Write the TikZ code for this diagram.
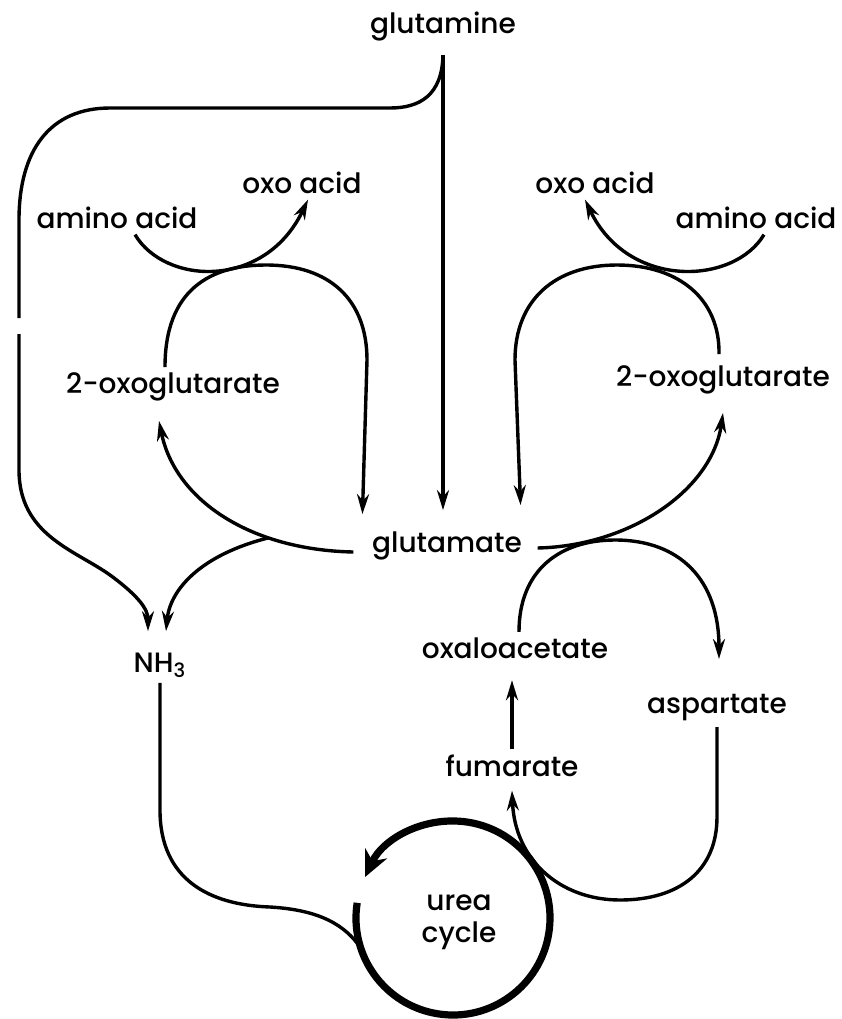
\documentclass[tikz,border=0pt]{standalone}
\usepackage{fontspec}
\setmainfont{Poppins}[UprightFont=* Medium]
\usetikzlibrary{arrows.meta}

\begin{document}
\begin{tikzpicture}[x=0.5pt, y=0.5pt, line width=1.7pt,
        lbl/.style={inner sep=2pt, font=\fontsize{14}{16}\selectfont},
        arr/.style={-{Stealth[length=10pt, width=6pt]}},
        ureaarc/.style={line width=3.6pt, -{Stealth[length=13pt, width=12pt]}}]
    \useasboundingbox (0,0) rectangle (842,-1019);

    % ノード（代謝物）の定義
    \node[lbl] (gln) at (443,-27) {glutamine};
    \node[lbl] (aminoL) at (117,-218) {amino acid};
    \node[lbl] (oxoL) at (302,-183) {oxo acid};
    \node[lbl] (oxoR) at (595,-183) {oxo acid};
    \node[lbl] (aminoR) at (756,-218) {amino acid};
    \node[lbl] (ogL) at (173,-387) {2-oxoglutarate};
    \node[lbl] (ogR) at (723,-380) {2-oxoglutarate};
    \node[lbl] (glu) at (447,-546) {glutamate};
    \node[lbl] (nh3) at (160,-665) {NH\textsubscript{3}};
    \node[lbl] (oaa) at (515,-648) {oxaloacetate};
    \node[lbl] (asp) at (717,-708) {aspartate};
    \node[lbl] (fum) at (512,-766) {fumarate};
    \coordinate (uc) at (453,-918);
    \node[lbl, align=center] (urea) at (459,-922) {urea\\cycle};

    % glutamine からの矢印
    \draw[arr, shorten <=4pt, shorten >=8pt] (gln.south) -- (gln.south |- glu.north);
    \draw ([yshift=-4pt]gln.south) .. controls (442,-95) and (420,-108) .. (390,-108)
        -- (110,-108) .. controls (50,-108) and (19,-150) .. (19,-220) -- (19,-318);
    \draw[arr] (19,-334) -- (19,-470) .. controls (19,-535) and (75,-550) .. (110,-575)
        .. controls (140,-597) and (148,-610) .. ([shift={(-6pt,8pt)}]nh3.north);

    % 左側のアミノ基転移
    \draw[arr] ([xshift=9pt]aminoL.south) .. controls (165,-285) and (265,-290) .. ([xshift=3pt]oxoL.south);
    \draw[arr] ([xshift=-4pt]ogL.north) .. controls (165,-290) and (210,-265) .. (266,-265)
        .. controls (330,-265) and (367,-300) .. (367,-360) -- ([shift={(-2pt,6pt)}]glu.north west);
    \draw[arr] ([shift={(-6.5pt,-3pt)}]glu.west) .. controls (250,-550) and (175,-500) ..
        ([shift={(-7pt,-7pt)}]ogL.south) coordinate[pos=0.3] (jl);
    \draw[arr] (jl) .. controls (200,-555) and (170,-590) .. ([shift={(3pt,8pt)}]nh3.north);

    % 右側のアミノ基転移
    \draw[arr] ([xshift=4pt]aminoR.south) .. controls (734,-285) and (628,-290) .. ([xshift=-5pt]oxoR.south);
    \draw[arr] ([shift={(-2pt,3pt)}]ogR.north) .. controls (720,-300) and (680,-265) .. (617,-265)
        .. controls (555,-265) and (515,-300) .. (515,-360) -- ([shift={(-3.5pt,10.5pt)}]glu.north east);
    \draw[arr] ([shift={(5pt,-1pt)}]glu.east) .. controls (630,-546) and (712,-490) .. ([yshift=-6.5pt]ogR.south);

    % aspartate と尿素回路
    \draw[arr] ([xshift=2pt]oaa.north) .. controls (519,-570) and (560,-540) .. (615,-540)
        .. controls (680,-540) and (719,-580) .. ([shift={(1pt,15pt)}]asp.north);
    \draw[arr, shorten >=8pt] (fum.north) -- (fum.north |- oaa.south);
    \draw[arr] (asp.south) -- ++(0,-90) .. controls (717,-870) and (680,-900) .. (620,-900)
        .. controls (560,-900) and (515,-860) .. ([yshift=-4pt]fum.south);
    \draw (nh3.south) -- (160,-810) .. controls (160,-880) and (210,-905) .. (270,-907)
        .. controls (320,-910) and (345,-925) .. ([shift={(198:97)}]uc);
    \draw[ureaarc] ([shift={(171:97)}]uc) arc[start angle=171, end angle=515, radius=97];
\end{tikzpicture}
\end{document}
